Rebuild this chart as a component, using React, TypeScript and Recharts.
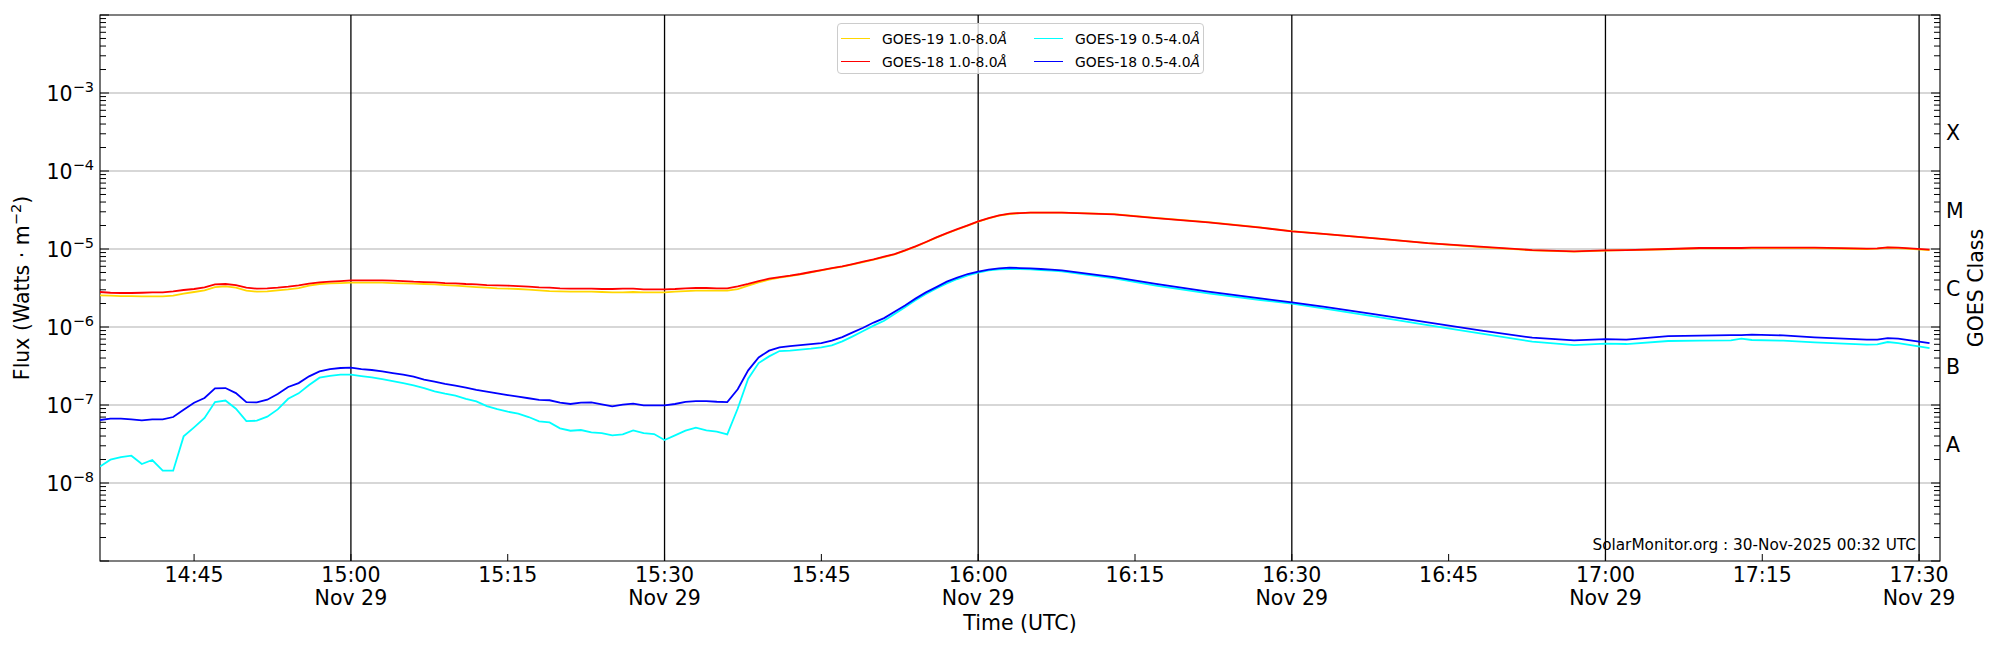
import React from "react";
import {
  LineChart,
  Line,
  XAxis,
  YAxis,
  CartesianGrid,
  Legend,
  ReferenceArea,
} from "recharts";

// minutes after 14:36 UTC, 29 Nov 2025
const minutes = [
  0, 1, 2, 3, 4, 5, 6, 7, 8, 9,
  10, 11, 12, 13, 14, 15, 16, 17, 18, 19,
  20, 21, 22, 23, 24, 25, 26, 27, 28, 29,
  30, 31, 32, 33, 34, 35, 36, 37, 38, 39,
  40, 41, 42, 43, 44, 45, 46, 47, 48, 49,
  50, 51, 52, 53, 54, 55, 56, 57, 58, 59,
  60, 61, 62, 63, 64, 65, 66, 67, 68, 69,
  70, 71, 72, 73, 74, 75, 76, 77, 78, 79,
  80, 81, 82, 83, 84, 85, 86, 87, 88, 89,
  90, 91,
  92, 97, 101, 106, 111, 114, 117, 122, 127, 132,
  137, 141, 144, 146, 150, 153, 156, 157, 158, 161,
  164, 169, 170, 171, 172, 175,
];

const goes19Long = [
  2.54e-6, 2.52e-6, 2.49e-6, 2.49e-6, 2.47e-6, 2.47e-6, 2.47e-6, 2.52e-6, 2.67e-6, 2.81e-6,
  2.95e-6, 3.25e-6, 3.32e-6, 3.19e-6, 2.92e-6, 2.84e-6, 2.86e-6, 2.95e-6, 3.04e-6, 3.16e-6,
  3.39e-6, 3.56e-6, 3.63e-6, 3.66e-6, 3.7e-6, 3.7e-6, 3.7e-6, 3.7e-6, 3.66e-6, 3.63e-6,
  3.59e-6, 3.56e-6, 3.52e-6, 3.45e-6, 3.39e-6, 3.32e-6, 3.25e-6, 3.19e-6, 3.13e-6, 3.1e-6,
  3.07e-6, 3.01e-6, 2.95e-6, 2.89e-6, 2.86e-6, 2.84e-6, 2.84e-6, 2.84e-6, 2.81e-6, 2.78e-6,
  2.78e-6, 2.81e-6, 2.78e-6, 2.78e-6, 2.78e-6, 2.84e-6, 2.89e-6, 2.92e-6, 2.92e-6, 2.92e-6,
  2.92e-6, 3.05e-6, 3.39e-6, 3.73e-6, 4.04e-6, 4.29e-6, 4.5e-6, 4.73e-6, 5.02e-6, 5.32e-6,
  5.64e-6, 5.93e-6, 6.35e-6, 6.81e-6, 7.29e-6, 7.89e-6, 8.53e-6, 9.51e-6, 1.07e-5, 1.22e-5,
  1.4e-5, 1.58e-5, 1.78e-5, 1.99e-5, 2.24e-5, 2.47e-5, 2.67e-5, 2.81e-5, 2.89e-5, 2.92e-5,
  2.92e-5, 2.93e-5,
  2.93e-5, 2.8e-5, 2.51e-5, 2.21e-5, 1.89e-5, 1.69e-5, 1.56e-5, 1.37e-5, 1.19e-5, 1.06e-5,
  9.62e-6, 9.25e-6, 9.55e-6, 9.65e-6, 9.92e-6, 1.02e-5, 1.02e-5, 1.02e-5, 1.03e-5, 1.03e-5,
  1.03e-5, 1.0e-5, 1.01e-5, 1.04e-5, 1.03e-5, 9.7e-6,
];

const goes18Long = [
  2.81e-6, 2.75e-6, 2.73e-6, 2.73e-6, 2.75e-6, 2.78e-6, 2.78e-6, 2.86e-6, 2.98e-6, 3.07e-6,
  3.22e-6, 3.52e-6, 3.56e-6, 3.45e-6, 3.19e-6, 3.1e-6, 3.13e-6, 3.19e-6, 3.29e-6, 3.42e-6,
  3.59e-6, 3.73e-6, 3.81e-6, 3.88e-6, 3.96e-6, 3.96e-6, 3.96e-6, 3.96e-6, 3.92e-6, 3.88e-6,
  3.81e-6, 3.77e-6, 3.73e-6, 3.66e-6, 3.63e-6, 3.56e-6, 3.52e-6, 3.45e-6, 3.42e-6, 3.39e-6,
  3.35e-6, 3.29e-6, 3.22e-6, 3.19e-6, 3.13e-6, 3.1e-6, 3.1e-6, 3.1e-6, 3.07e-6, 3.07e-6,
  3.1e-6, 3.1e-6, 3.04e-6, 3.04e-6, 3.04e-6, 3.07e-6, 3.13e-6, 3.16e-6, 3.16e-6, 3.13e-6,
  3.13e-6, 3.32e-6, 3.56e-6, 3.88e-6, 4.16e-6, 4.37e-6, 4.55e-6, 4.78e-6, 5.07e-6, 5.37e-6,
  5.7e-6, 5.99e-6, 6.42e-6, 6.88e-6, 7.36e-6, 7.97e-6, 8.62e-6, 9.61e-6, 1.08e-5, 1.23e-5,
  1.41e-5, 1.6e-5, 1.8e-5, 2.01e-5, 2.26e-5, 2.49e-5, 2.7e-5, 2.84e-5, 2.89e-5, 2.92e-5,
  2.92e-5, 2.92e-5,
  2.92e-5, 2.78e-5, 2.49e-5, 2.19e-5, 1.88e-5, 1.68e-5, 1.56e-5, 1.37e-5, 1.19e-5, 1.07e-5,
  9.7e-6, 9.33e-6, 9.61e-6, 9.7e-6, 1.0e-5, 1.03e-5, 1.03e-5, 1.03e-5, 1.04e-5, 1.04e-5,
  1.04e-5, 1.01e-5, 1.02e-5, 1.05e-5, 1.04e-5, 9.79e-6,
];

const goes19Short = [
  1.63e-8, 1.99e-8, 2.15e-8, 2.24e-8, 1.75e-8, 1.97e-8, 1.44e-8, 1.44e-8, 3.96e-8, 5.17e-8,
  6.81e-8, 1.09e-7, 1.14e-7, 8.97e-8, 6.23e-8, 6.29e-8, 7.08e-8, 8.79e-8, 1.2e-7, 1.41e-7,
  1.8e-7, 2.24e-7, 2.37e-7, 2.45e-7, 2.45e-7, 2.35e-7, 2.26e-7, 2.15e-7, 2.03e-7, 1.91e-7,
  1.79e-7, 1.65e-7, 1.5e-7, 1.4e-7, 1.32e-7, 1.2e-7, 1.11e-7, 9.7e-8, 8.88e-8, 8.21e-8,
  7.74e-8, 7.01e-8, 6.17e-8, 5.99e-8, 5.02e-8, 4.68e-8, 4.78e-8, 4.46e-8, 4.37e-8, 4.08e-8,
  4.2e-8, 4.73e-8, 4.37e-8, 4.24e-8, 3.56e-8, 4.08e-8, 4.68e-8, 5.12e-8, 4.73e-8, 4.55e-8,
  4.2e-8, 9.01e-8, 2.17e-7, 3.45e-7, 4.2e-7, 4.92e-7, 4.97e-7, 5.12e-7, 5.27e-7, 5.48e-7,
  5.81e-7, 6.54e-7, 7.59e-7, 8.88e-7, 1.04e-6, 1.2e-6, 1.47e-6, 1.79e-6, 2.2e-6, 2.65e-6,
  3.13e-6, 3.63e-6, 4.12e-6, 4.59e-6, 4.97e-6, 5.32e-6, 5.48e-6, 5.54e-6, 5.54e-6, 5.48e-6,
  5.37e-6, 5.27e-6,
  5.17e-6, 4.2e-6, 3.39e-6, 2.7e-6, 2.22e-6, 1.99e-6, 1.73e-6, 1.36e-6, 1.06e-6, 8.29e-7,
  6.48e-7, 5.87e-7, 6.11e-7, 6.05e-7, 6.61e-7, 6.67e-7, 6.74e-7, 7.08e-7, 6.81e-7, 6.67e-7,
  6.35e-7, 5.93e-7, 5.99e-7, 6.42e-7, 6.23e-7, 5.37e-7,
];

const goes18Short = [
  6.42e-8, 6.67e-8, 6.67e-8, 6.54e-8, 6.35e-8, 6.54e-8, 6.54e-8, 7.01e-8, 8.7e-8, 1.07e-7,
  1.23e-7, 1.63e-7, 1.65e-7, 1.42e-7, 1.09e-7, 1.08e-7, 1.17e-7, 1.38e-7, 1.7e-7, 1.91e-7,
  2.33e-7, 2.7e-7, 2.89e-7, 2.98e-7, 3.01e-7, 2.89e-7, 2.81e-7, 2.7e-7, 2.57e-7, 2.45e-7,
  2.31e-7, 2.11e-7, 1.99e-7, 1.86e-7, 1.77e-7, 1.67e-7, 1.56e-7, 1.48e-7, 1.41e-7, 1.34e-7,
  1.28e-7, 1.22e-7, 1.16e-7, 1.15e-7, 1.07e-7, 1.03e-7, 1.07e-7, 1.08e-7, 1.02e-7, 9.6e-8,
  1.01e-7, 1.04e-7, 9.89e-8, 9.89e-8, 9.89e-8, 1.03e-7, 1.1e-7, 1.12e-7, 1.12e-7, 1.1e-7,
  1.09e-7, 1.59e-7, 2.78e-7, 4.08e-7, 4.97e-7, 5.48e-7, 5.7e-7, 5.87e-7, 6.05e-7, 6.23e-7,
  6.67e-7, 7.43e-7, 8.53e-7, 9.79e-7, 1.14e-6, 1.3e-6, 1.57e-6, 1.89e-6, 2.31e-6, 2.78e-6,
  3.25e-6, 3.81e-6, 4.29e-6, 4.78e-6, 5.12e-6, 5.43e-6, 5.64e-6, 5.76e-6, 5.7e-6, 5.64e-6,
  5.54e-6, 5.43e-6,
  5.32e-6, 4.37e-6, 3.56e-6, 2.84e-6, 2.33e-6, 2.07e-6, 1.82e-6, 1.45e-6, 1.15e-6, 9.05e-7,
  7.29e-7, 6.74e-7, 7.01e-7, 6.87e-7, 7.66e-7, 7.74e-7, 7.89e-7, 7.89e-7, 7.97e-7, 7.81e-7,
  7.36e-7, 6.87e-7, 6.87e-7, 7.22e-7, 7.08e-7, 6.23e-7,
];

const seriesKeys = ["g19Long", "g18Long", "g19Short", "g18Short"];
const seriesNames = ["GOES-19 1.0-8.0", "GOES-18 1.0-8.0", "GOES-19 0.5-4.0", "GOES-18 0.5-4.0"];
const seriesColors = ["#ffd700", "#ff0000", "#00ffff", "#0000ff"];

const xTickValues = [9, 24, 39, 54, 69, 84, 99, 114, 129, 144, 159, 174];
const xTickLabels = ["14:45", "15:00", "15:15", "15:30", "15:45", "16:00", "16:15", "16:30", "16:45", "17:00", "17:15", "17:30"];
const xDateLabels = ["", "Nov 29", "", "Nov 29", "", "Nov 29", "", "Nov 29", "", "Nov 29", "", "Nov 29"];
const halfHourLines = [24, 54, 84, 114, 144, 174];

const decades = [1e-9, 1e-8, 1e-7, 1e-6, 1e-5, 1e-4, 1e-3, 1e-2];
const mantissas = [1, 2, 3, 4, 5, 6, 7, 8, 9];
const yLabelValues = [1e-8, 1e-7, 1e-6, 1e-5, 1e-4, 1e-3];
const yLabelExponents = ["\u22128", "\u22127", "\u22126", "\u22125", "\u22124", "\u22123"];
const classLevels = [3.162e-8, 3.162e-7, 3.162e-6, 3.162e-5, 3.162e-4];
const classLabels = ["A", "B", "C", "M", "X"];

const FONT = "DejaVu Sans";
const logTicks = [...decades.slice(0, -1).flatMap((d) => mantissas.map((m) => m * d)), 1e-2];

const data = minutes.map((m, i) => ({
  m,
  g19Long: goes19Long[i],
  g18Long: goes18Long[i],
  g19Short: goes19Short[i],
  g18Short: goes18Short[i],
}));

const near = (a: number, b: number) => Math.abs(a - b) / b < 1e-4;
const isDecade = (v: number) => decades.some((d) => near(v, d));

function LeftTick(props: any) {
  const { x, y, payload } = props;
  const v = payload.value;
  const idx = yLabelValues.findIndex((d) => near(v, d));
  return (
    <g>
      <line x1={x} x2={x + (isDecade(v) ? 9 : 6)} y1={y} y2={y} stroke="#000" strokeWidth={1} />
      {idx >= 0 && (
        <text x={x - 6} y={y + 8} textAnchor="end" fontSize={20.5} fontFamily={FONT} fill="#000">
          10<tspan dy={-9} fontSize={14.5}>{yLabelExponents[idx]}</tspan>
        </text>
      )}
    </g>
  );
}

function RightTick(props: any) {
  const { x, y, payload } = props;
  const v = payload.value;
  const idx = classLevels.findIndex((c) => Math.abs(c - v) / c < 1e-3);
  if (idx >= 0) {
    return (
      <text x={x + 6} y={y + 7.5} textAnchor="start" fontSize={20.5} fontFamily={FONT} fill="#000">
        {classLabels[idx]}
      </text>
    );
  }
  return <line x1={x - (isDecade(v) ? 9 : 6)} x2={x} y1={y} y2={y} stroke="#000" strokeWidth={1} />;
}

function TimeTick(props: any) {
  const { x, y, payload } = props;
  const i = xTickValues.indexOf(payload.value);
  return (
    <g>
      <line x1={x} x2={x} y1={y} y2={y - 7} stroke="#000" strokeWidth={1} />
      <text x={x} y={y + 21} textAnchor="middle" fontSize={20.5} fontFamily={FONT} fill="#000">
        {xTickLabels[i]}
      </text>
      {xDateLabels[i] && (
        <text x={x} y={y + 44} textAnchor="middle" fontSize={20.5} fontFamily={FONT} fill="#000">
          {xDateLabels[i]}
        </text>
      )}
    </g>
  );
}

function FluxTitle(props: any) {
  const vb = props.viewBox;
  const cy = vb.y + vb.height / 2;
  return (
    <text transform="rotate(-90)" x={-cy} y={vb.x + 29} textAnchor="middle" fontSize={20.5} fontFamily={FONT} fill="#000">
      Flux (Watts · m<tspan dy={-8} fontSize={14.5}>{"\u22122"}</tspan>
      <tspan dy={8}>)</tspan>
    </text>
  );
}

function ClassTitle(props: any) {
  const vb = props.viewBox;
  const cy = vb.y + vb.height / 2;
  return (
    <text transform="rotate(-90)" x={-cy} y={vb.x + 43} textAnchor="middle" fontSize={20.5} fontFamily={FONT} fill="#000">
      GOES Class
    </text>
  );
}

function TimeTitle(props: any) {
  const vb = props.viewBox;
  return (
    <g>
      <text x={vb.x + vb.width / 2} y={vb.y + 69} textAnchor="middle" fontSize={20.5} fontFamily={FONT} fill="#000">
        Time (UTC)
      </text>
      <text x={vb.x + vb.width - 24} y={vb.y - 11} textAnchor="end" fontSize={15.3} fontFamily={FONT} fill="#000">
        SolarMonitor.org : 30-Nov-2025 00:32 UTC
      </text>
    </g>
  );
}

function GoesLegend() {
  return (
    <div
      style={{
        boxSizing: "border-box",
        width: 367,
        height: 51,
        border: "1px solid #cccccc",
        borderRadius: 4,
        background: "rgba(255,255,255,0.8)",
        display: "grid",
        gridTemplateColumns: "193px 1fr",
        gridTemplateRows: "23px 23px",
        gridAutoFlow: "column",
        padding: "3px 0 0 3px",
        fontFamily: FONT,
        fontSize: 13.9,
        color: "#000",
      }}
    >
      {seriesNames.map((name, i) => (
        <div key={name} style={{ display: "flex", alignItems: "center", whiteSpace: "nowrap" }}>
          <span style={{ display: "inline-block", width: 29, borderTop: `1.5px solid ${seriesColors[i]}`, marginRight: 12 }} />
          <span>
            {name}
            <i>Å</i>
          </span>
        </div>
      ))}
    </div>
  );
}

export default function App() {
  return (
    <div style={{ position: "absolute", left: 0, top: 0, width: 2000, height: 650, background: "#fff" }}>
      <LineChart width={2000} height={650} data={data} margin={{ top: 15, right: 0, bottom: 0, left: 0 }}>
        <CartesianGrid yAxisId="left" vertical={false} horizontalValues={yLabelValues} stroke="#b0b0b0" strokeWidth={1.1} />
        <CartesianGrid yAxisId="left" horizontal={false} verticalValues={halfHourLines} stroke="#000" strokeWidth={1.3} />
        <XAxis
          dataKey="m"
          type="number"
          domain={[0, 176]}
          allowDataOverflow
          ticks={xTickValues}
          interval={0}
          height={89}
          tickSize={0}
          tickMargin={0}
          tickLine={false}
          axisLine={false}
          tick={TimeTick}
          label={{ content: TimeTitle }}
        />
        <YAxis
          yAxisId="left"
          scale="log"
          type="number"
          domain={[1e-9, 1e-2]}
          allowDataOverflow
          ticks={logTicks}
          interval={0}
          width={100}
          tickSize={0}
          tickMargin={0}
          tickLine={false}
          axisLine={false}
          tick={LeftTick}
          label={{ content: FluxTitle }}
        />
        <YAxis
          yAxisId="right"
          orientation="right"
          scale="log"
          type="number"
          domain={[1e-9, 1e-2]}
          allowDataOverflow
          ticks={[...logTicks, ...classLevels]}
          interval={0}
          width={60}
          tickSize={0}
          tickMargin={0}
          tickLine={false}
          axisLine={false}
          tick={RightTick}
          label={{ content: ClassTitle }}
        />
        {seriesKeys.map((k, i) => (
          <Line
            key={k}
            yAxisId="left"
            type="linear"
            dataKey={k}
            name={seriesNames[i] + "Å"}
            stroke={seriesColors[i]}
            strokeWidth={1.8}
            dot={false}
            activeDot={false}
            isAnimationActive={false}
          />
        ))}
        <ReferenceArea
          yAxisId="left"
          x1={0}
          x2={176}
          y1={1e-9}
          y2={1e-2}
          fill="none"
          stroke="#000"
          strokeWidth={1.1}
          ifOverflow="visible"
        />
        <Legend
          layout="horizontal"
          verticalAlign="middle"
          align="center"
          content={GoesLegend}
          wrapperStyle={{ left: 837, top: 23, width: 367, height: 51 }}
        />
      </LineChart>
    </div>
  );
}
